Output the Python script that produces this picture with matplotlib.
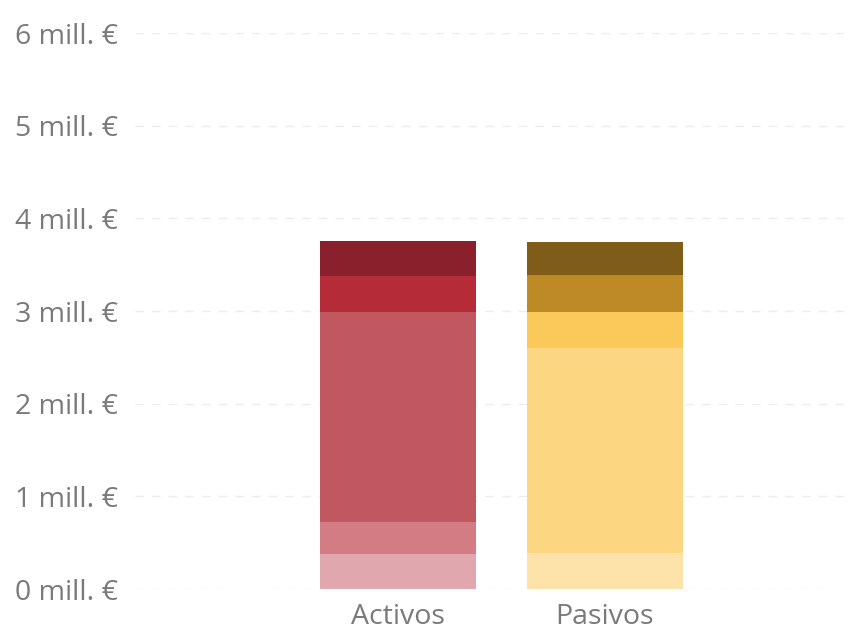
import numpy as np
import matplotlib.pyplot as plt

# Datos (millones de euros), de abajo hacia arriba
categorias = ["Activos", "Pasivos"]
activos = [0.38, 0.34, 2.27, 0.39, 0.38]
pasivos = [0.39, 2.21, 0.39, 0.40, 0.35]
colores_activos = ["#E0A8AE", "#D47C84", "#C1575F", "#B52B38", "#8A202C"]
colores_pasivos = ["#FDE3A9", "#FCD680", "#FBC85A", "#BD8A25", "#7F5C18"]
ticks = [0, 1, 2, 3, 4, 5, 6]

plt.rcParams['font.family'] = ['Open Sans', 'DejaVu Sans']

fig = plt.figure(figsize=(8.53, 6.4), dpi=100)
ax = fig.add_axes([135 / 853, 1 - 589 / 640, (853 - 135) / 853, (589 - 33) / 640])

ancho = 0.755
for x, valores, colores in [(0, activos, colores_activos), (1, pasivos, colores_pasivos)]:
    base = 0
    for v, c in zip(valores, colores):
        ax.bar(x, v, bottom=base, width=ancho, color=c, edgecolor='none', zorder=2)
        base += v

ax.set_ylim(0, 6)
ax.set_xlim(-1.274, 2.203)
ax.set_yticks(ticks)
ax.set_yticklabels([f"{t} mill. €" for t in ticks])
ax.set_xticks([0, 1])
ax.set_xticklabels(categorias)
ax.tick_params(axis='both', length=0, labelsize=20.5, colors='#7a7a7a')
ax.tick_params(axis='y', pad=12)
ax.tick_params(axis='x', pad=10)
ax.yaxis.grid(True, linestyle=(0, (6, 6)), color='#ececec', linewidth=1, zorder=0)
for s in ax.spines.values():
    s.set_visible(False)

fig.savefig("out.png", dpi=100)
